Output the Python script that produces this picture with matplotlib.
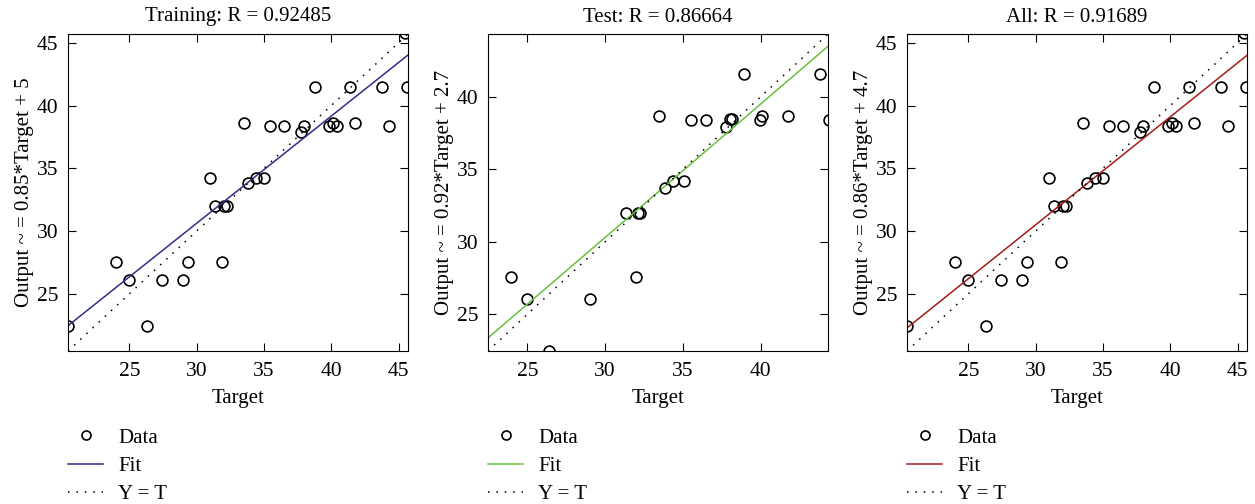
import numpy as np
import matplotlib
matplotlib.use("Agg")
import matplotlib.pyplot as plt
from matplotlib.lines import Line2D

plt.rcParams['font.family'] = ['Liberation Serif', 'DejaVu Serif']
plt.rcParams['font.size'] = 15

# Training / All data
train_target = [20.47, 23.99, 25.0, 26.29, 27.45, 28.96, 29.33, 31.01, 31.34,
                31.91, 32.03, 32.23, 33.51, 33.84, 34.38, 35.02, 35.45, 36.46,
                37.75, 37.97, 38.81, 39.85, 40.10, 40.40, 41.39, 41.76, 43.79,
                44.31, 45.59, 45.45]
train_output = [22.41, 27.56, 26.08, 22.41, 26.08, 26.08, 27.56, 34.22, 31.97,
                27.56, 31.97, 31.97, 38.63, 33.80, 34.22, 34.22, 38.40, 38.40,
                37.89, 38.40, 41.49, 38.40, 38.63, 38.40, 41.49, 38.63, 41.49,
                38.40, 41.49, 45.75]

# Test data
test_target = [23.98, 25.0, 26.41, 29.01, 31.34, 32.0, 32.08, 32.25, 33.49,
               33.85, 34.39, 35.07, 35.54, 36.46, 37.76, 38.01, 38.12, 38.89,
               39.94, 40.08, 41.75, 43.78, 44.37]
test_output = [27.6, 26.04, 22.49, 26.04, 32.0, 27.6, 32.0, 32.0, 38.66,
               33.71, 34.19, 34.19, 38.39, 38.39, 37.93, 38.43, 38.43, 41.57,
               38.39, 38.66, 38.66, 41.57, 38.39]

titles = ['Training: R = 0.92485', 'Test: R = 0.86664', 'All: R = 0.91689']
ylabels = ['Output ~ = 0.85*Target + 5', 'Output ~ = 0.92*Target + 2.7',
           'Output ~ = 0.86*Target + 4.7']
fit_slopes = [0.854, 0.92, 0.86]
fit_intercepts = [5.0, 2.7, 4.7]
fit_colors = ['#2e2e8a', '#66c23a', '#a31c1c']
limits = [(20.45, 45.7), (22.47, 44.32), (20.45, 45.7)]
datasets = [(train_target, train_output), (test_target, test_output),
            (train_target, train_output)]
lefts = [68, 488, 907]

dots = (0, (1, 4.5))

W, H = 1255, 504
fig = plt.figure(figsize=(W / 100, H / 100), dpi=100)

for i in range(3):
    ax = fig.add_axes([lefts[i] / W, (H - 351) / H, 340 / W, 317 / H])
    lo, hi = limits[i]
    t, o = datasets[i]
    xs = np.array([lo, hi])
    ax.plot(t, o, 'o', mfc='none', mec='black', ms=7.8, mew=1.2)
    ax.plot(xs, fit_slopes[i] * xs + fit_intercepts[i], '-',
            color=fit_colors[i], lw=1.1)
    ax.plot(xs, xs, ls=dots, color='black', lw=1.1)
    ax.set_xlim(lo, hi)
    ax.set_ylim(lo, hi)
    ticks = [v for v in [25, 30, 35, 40, 45] if lo <= v <= hi]
    ax.set_xticks(ticks)
    ax.set_yticks(ticks)
    ax.tick_params(direction='in', top=True, right=True, length=6,
                   width=0.8, labelsize=15.5)
    ax.tick_params(axis='x', pad=8)
    ax.tick_params(axis='y', pad=7)
    ax.set_title(titles[i], fontsize=15, pad=9)
    ax.set_xlabel('Target', fontsize=15, labelpad=6)
    ax.set_ylabel(ylabels[i], fontsize=15, labelpad=2)

    handles = [Line2D([], [], ls='none', marker='o', mfc='none', mec='black',
                      ms=6.5, mew=1.2),
               Line2D([], [], color=fit_colors[i], lw=1.1),
               Line2D([], [], color='black', ls=dots, lw=1.1)]
    ax.legend(handles, ['Data', 'Fit', 'Y = T'], loc='upper left',
              bbox_to_anchor=(0.0, -0.243), frameon=False, borderaxespad=0,
              borderpad=0, handlelength=1.7, handletextpad=0.7,
              labelspacing=0.42, fontsize=15)

fig.savefig('out.png', dpi=100)
